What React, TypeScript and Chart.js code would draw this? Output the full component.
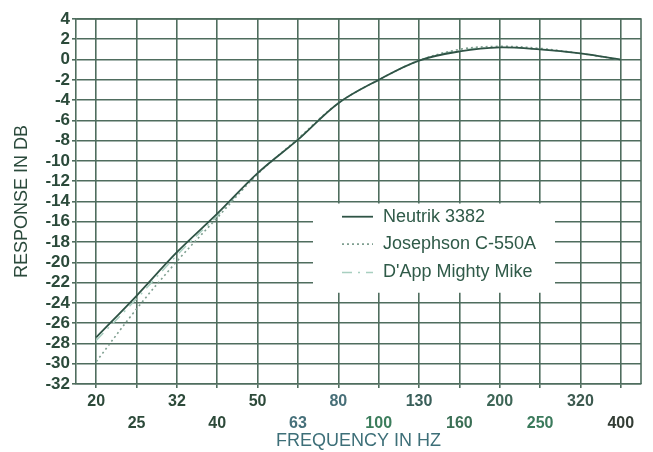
import React, { useEffect, useRef } from "react";
import { Chart, registerables } from "chart.js";

Chart.register(...registerables);

const frequencies = ["20", "25", "32", "40", "50", "63", "80", "100", "130", "160", "200", "250", "320", "400"];
const neutrik = [-27.4, -23.3, -19.0, -15.2, -11.2, -7.9, -4.3, -2.0, -0.1, 0.8, 1.2, 1.0, 0.6, 0.0];
const josephson = [-29.8, -24.6, -19.9, -15.6, -11.3, -7.8, -4.3, -2.0, -0.1, 1.0, 1.3, 1.1, 0.6, 0.0];
const dapp = [-27.7, -23.6, -19.3, -15.4, -11.2, -7.9, -4.3, -2.0, -0.1, 0.9, 1.2, 1.0, 0.6, 0.0];
const seriesNames = ["Neutrik 3382", "Josephson C-550A", "D'App Mighty Mike"];
const xTickColors = ["#2d4a3a", "#2d4a3a", "#2d4a3a", "#2d4a3a", "#2d4a3a", "#46707a", "#476f78", "#3c7d5c", "#3a5f5a", "#3b6f55", "#3e6657", "#3b7a5c", "#3d5a50", "#333d35"];

const GRID = "#4f6d5e";
const FONT = "'Liberation Sans', Arial, sans-serif";

const framePlugin = {
  id: "frame",
  beforeDatasetsDraw(chart: any) {
    const { ctx, chartArea } = chart;
    ctx.save();
    ctx.strokeStyle = GRID;
    ctx.lineWidth = 1.6;
    ctx.beginPath();
    ctx.moveTo(chartArea.left, chartArea.top);
    ctx.lineTo(chartArea.right, chartArea.top);
    ctx.lineTo(chartArea.right, chartArea.bottom);
    ctx.stroke();
    const y = chart.scales.y;
    const bx = chartArea.left + 237;
    const bw = 242;
    const by = y.getPixelForValue(-14) + 2;
    const bb = y.getPixelForValue(-23);
    ctx.fillStyle = "#ffffff";
    ctx.fillRect(bx, by, bw, bb - by);
    ctx.restore();
  },
  afterDatasetsDraw(chart: any) {
    const { ctx, chartArea } = chart;
    const y = chart.scales.y;
    const rows = [y.getPixelForValue(-15.5), y.getPixelForValue(-18.2), y.getPixelForValue(-21.0)];
    const sx0 = chartArea.left + 266;
    const sx1 = chartArea.left + 297;
    const tx = chartArea.left + 307;
    ctx.save();
    chart.data.datasets.forEach((ds: any, i: number) => {
      ctx.strokeStyle = ds.borderColor;
      ctx.lineWidth = ds.borderWidth;
      ctx.setLineDash(ds.borderDash || []);
      ctx.beginPath();
      ctx.moveTo(sx0, rows[i]);
      ctx.lineTo(sx1, rows[i]);
      ctx.stroke();
      ctx.setLineDash([]);
      ctx.fillStyle = "#2f5a48";
      ctx.font = `18px ${FONT}`;
      ctx.textBaseline = "middle";
      ctx.textAlign = "left";
      ctx.fillText(ds.label, tx, rows[i]);
    });
    ctx.restore();
  },
};

export default function App() {
  const ref = useRef<HTMLCanvasElement | null>(null);
  useEffect(() => {
    if (!ref.current) return;
    const chart = new Chart(ref.current, {
      type: "line",
      data: {
        labels: frequencies,
        datasets: [
          { label: seriesNames[0], data: neutrik, borderColor: "#2f5446", borderWidth: 1.8, pointRadius: 0, tension: 0.35, fill: false },
          { label: seriesNames[1], data: josephson, borderColor: "#7f9f90", borderWidth: 1.6, borderDash: [2, 3], pointRadius: 0, tension: 0.35, fill: false },
          { label: seriesNames[2], data: dapp, borderColor: "#a8cfc0", borderWidth: 1.4, borderDash: [10, 6, 2, 6], pointRadius: 0, tension: 0.35, fill: false },
        ],
      },
      options: {
        animation: false,
        responsive: false,
        maintainAspectRatio: false,
        layout: { padding: { top: 19, right: 12, left: 0, bottom: 0 } },
        plugins: { legend: { display: false }, tooltip: { enabled: false } },
        scales: {
          x: {
            type: "category",
            offset: true,
            grid: { offset: false, color: GRID, lineWidth: 1.6, tickLength: 4 },
            border: { color: GRID, width: 1.6 },
            ticks: {
              autoSkip: false,
              maxRotation: 0,
              padding: 3,
              color: xTickColors,
              font: { family: FONT, size: 16, weight: "bold", lineHeight: 1.35 },
              callback: (_v: any, i: number) => (i % 2 === 0 ? [frequencies[i], ""] : ["", frequencies[i]]),
            },
            title: {
              display: true,
              text: "FREQUENCY IN HZ",
              color: "#3d6f78",
              font: { family: FONT, size: 18 },
              padding: { top: 0, bottom: 0 },
            },
            afterFit: (s: any) => { s.height = 452 - 384; },
          },
          y: {
            min: -32,
            max: 4,
            ticks: {
              stepSize: 2,
              autoSkip: false,
              padding: 2,
              color: "#2b4a3a",
              font: { family: FONT, size: 17, weight: "bold", lineHeight: 1 },
            },
            grid: { color: GRID, lineWidth: 1.6, tickLength: 4 },
            border: { color: GRID, width: 1.6 },
            title: {
              display: true,
              text: "RESPONSE IN DB",
              color: "#2b4a3c",
              font: { family: FONT, size: 18 },
              padding: { top: 11, bottom: 0 },
            },
            afterFit: (s: any) => { s.width = 76; },
          },
        },
      },
      plugins: [framePlugin],
    } as any);
    return () => chart.destroy();
  }, []);
  return (
    <div style={{ position: "fixed", left: 0, top: 0, width: 653, height: 452, background: "#fff" }}>
      <canvas ref={ref} width={653} height={452} style={{ width: 653, height: 452, display: "block" }} />
    </div>
  );
}
